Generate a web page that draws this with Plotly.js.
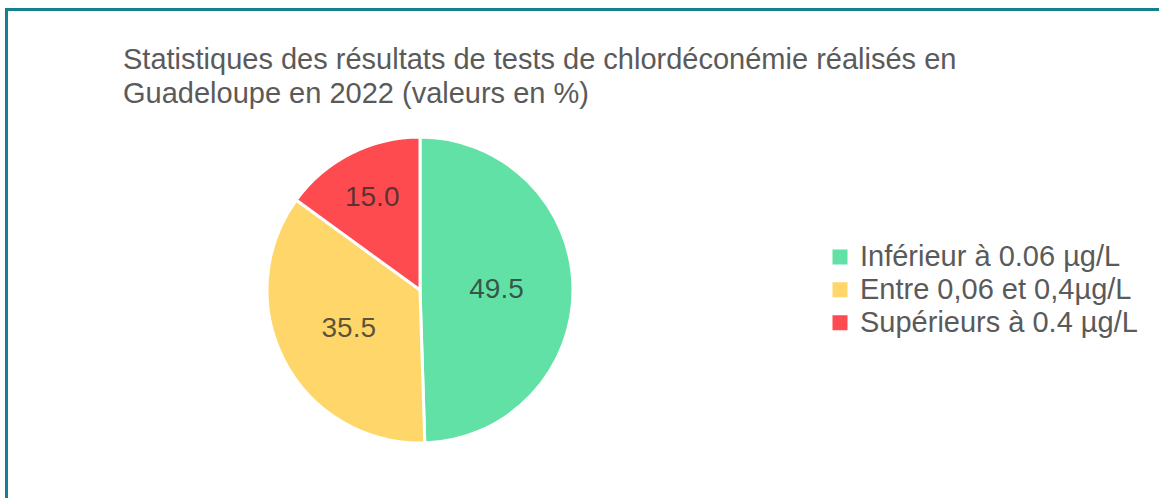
<!DOCTYPE html>
<html>
<head>
<meta charset="utf-8">
<script src="https://cdn.plot.ly/plotly-3.0.1.min.js"></script>
<style>
  html, body { margin: 0; padding: 0; background: #ffffff; }
  #frame {
    position: absolute; left: 5px; top: 8px; width: 1300px; height: 700px;
    border-left: 3px solid #17808f; border-top: 3px solid #17808f;
    pointer-events: none; z-index: 5;
  }
  #chart { position: absolute; left: 0; top: 0; width: 1159px; height: 498px; }
</style>
</head>
<body>
<div id="chart"></div>
<div id="frame"></div>
<script>
// statistiques chlordéconémie Guadeloupe 2022 (en %)
const labels = ['Inférieur à 0.06 µg/L', 'Entre 0,06 et 0,4µg/L', 'Supérieurs à 0.4 µg/L'];
const values = [49.5, 35.5, 15.0];
const colors = ['#62e1a6', '#fed66a', '#fd4b4f'];

const titleText = 'Statistiques des résultats de tests de chlordéconémie réalisés en<br>Guadeloupe en 2022 (valeurs en %)';

const pieTrace = {
  type: 'pie',
  labels: labels,
  values: values,
  sort: false,
  direction: 'clockwise',
  rotation: 0,
  showlegend: false,
  marker: { colors: colors, line: { color: '#ffffff', width: 3 } },
  texttemplate: '%{value:.1f}',
  textposition: 'inside',
  insidetextorientation: 'horizontal',
  insidetextfont: { family: 'Liberation Sans, Arial, sans-serif', size: 28, color: 'rgba(40,40,40,0.75)' },
  hoverinfo: 'none',
  domain: { x: [267 / 1159, 573 / 1159], y: [55 / 498, 361 / 498] }
};

// the pie's own legend squares are tiny, so the legend comes from empty
// marker-only traces (one per label) with bigger square symbols.
// legend font is kept small for the tight row spacing, label drawn at 29px
const legendTraces = labels.map((l, i) => ({
  type: 'scatter',
  mode: 'markers',
  x: [null],
  y: [null],
  name: '<span style="font-size:29px">' + l + '</span>',
  marker: { symbol: 'square', size: 15, color: colors[i] },
  hoverinfo: 'none'
}));

const layout = {
  width: 1159,
  height: 498,
  margin: { l: 0, r: 0, t: 0, b: 0 },
  paper_bgcolor: '#ffffff',
  plot_bgcolor: 'rgba(0,0,0,0)',
  font: { family: 'Liberation Sans, Arial, sans-serif', color: '#5a5a5a' },
  title: {
    text: '<span style="font-size:29px">' + titleText.replace('<br>', '</span><br><span style="font-size:29px">') + '</span>',
    font: { size: 26, color: '#5a5a5a' },
    x: 123 / 1159, xanchor: 'left',
    y: 1 - 69 / 498, yanchor: 'top'
  },
  xaxis: { visible: false },
  yaxis: { visible: false },
  showlegend: true,
  legend: {
    x: 820 / 1159, xanchor: 'left',
    y: 1 - 290 / 498, yanchor: 'middle',
    font: { size: 23, color: '#5a5a5a' },
    bgcolor: 'rgba(0,0,0,0)'
  }
};

Plotly.newPlot('chart', [pieTrace, ...legendTraces], layout, { displayModeBar: false, staticPlot: true });
</script>
</body>
</html>
